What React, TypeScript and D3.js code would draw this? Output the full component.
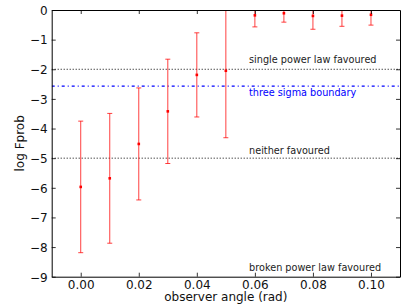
import React, { useEffect, useRef } from 'react';
import * as d3 from 'd3';

// observer angle (rad) and log Fprob with symmetric error
const angles = [0.0, 0.01, 0.02, 0.03, 0.04, 0.05, 0.06, 0.07, 0.08, 0.09, 0.1];
const logFprob = [-5.97, -5.68, -4.52, -3.42, -2.19, -2.05, -0.18, -0.11, -0.2, -0.19, -0.16];
const errors = [2.22, 2.19, 1.89, 1.76, 1.42, 2.26, 0.39, 0.3, 0.45, 0.36, 0.35];

const xTicks = [0.0, 0.02, 0.04, 0.06, 0.08, 0.1];
const yTicks = [0, -1, -2, -3, -4, -5, -6, -7, -8, -9];

// reference lines
const dottedLevels = [-2, -5];
const sigmaLevel = Math.log10(0.0027);

// annotations
const noteX = 0.058;
const noteTexts = ['single power law favoured', 'three sigma boundary', 'neither favoured', 'broken power law favoured'];
const noteY = [-1.8, -2.89, -4.86, -8.81];
const noteColors = ['#222', 'blue', '#222', '#222'];

const App: React.FC = () => {
  const svgRef = useRef<SVGSVGElement>(null);

  useEffect(() => {
    if (!svgRef.current) return;
    const svg = d3.select(svgRef.current);
    svg.selectAll('*').remove();

    const width = 407;
    const height = 307;
    const left = 51.7;
    const right = 400;
    const top = 10;
    const bottom = 276.7;

    const x = d3.scaleLinear().domain([-0.01, 0.11]).range([left, right]);
    const y = d3.scaleLinear().domain([-9, 0]).range([bottom, top]);

    svg.attr('width', width).attr('height', height);
    svg.append('rect').attr('width', width).attr('height', height).attr('fill', 'white');

    svg
      .append('clipPath')
      .attr('id', 'plotclip')
      .append('rect')
      .attr('x', left)
      .attr('y', top)
      .attr('width', right - left)
      .attr('height', bottom - top);

    const plot = svg.append('g').attr('clip-path', 'url(#plotclip)');

    // horizontal reference lines
    dottedLevels.forEach((v) => {
      plot
        .append('line')
        .attr('x1', left)
        .attr('x2', right)
        .attr('y1', y(v))
        .attr('y2', y(v))
        .attr('stroke', 'black')
        .attr('stroke-width', 1)
        .attr('stroke-dasharray', '1,2');
    });
    plot
      .append('line')
      .attr('x1', left)
      .attr('x2', right)
      .attr('y1', y(sigmaLevel))
      .attr('y2', y(sigmaLevel))
      .attr('stroke', 'blue')
      .attr('stroke-width', 1.2)
      .attr('stroke-dasharray', '3,3,1,3');

    // error bars
    const bars = plot
      .selectAll('g.bar')
      .data(angles.map((a, i) => ({ a, v: logFprob[i], e: errors[i] })))
      .join('g')
      .attr('class', 'bar')
      .attr('stroke', 'red')
      .attr('stroke-opacity', 0.75);

    bars
      .append('line')
      .attr('x1', (d) => x(d.a))
      .attr('x2', (d) => x(d.a))
      .attr('y1', (d) => y(d.v - d.e))
      .attr('y2', (d) => y(d.v + d.e));
    [-1, 1].forEach((s) => {
      bars
        .append('line')
        .attr('x1', (d) => x(d.a) - 2.5)
        .attr('x2', (d) => x(d.a) + 2.5)
        .attr('y1', (d) => y(d.v + s * d.e))
        .attr('y2', (d) => y(d.v + s * d.e));
    });
    bars
      .append('rect')
      .attr('x', (d) => x(d.a) - 1.3)
      .attr('y', (d) => y(d.v) - 1.3)
      .attr('width', 2.6)
      .attr('height', 2.6)
      .attr('fill', 'red')
      .attr('stroke', 'none');

    // axes with inward ticks
    const fmtX = d3.format('.2f');
    const gx = svg
      .append('g')
      .attr('transform', `translate(0,${bottom})`)
      .call(d3.axisBottom(x).tickValues(xTicks).tickSizeInner(-4).tickSizeOuter(0).tickPadding(3.5).tickFormat((d) => fmtX(d as number)));
    const gy = svg
      .append('g')
      .attr('transform', `translate(${left},0)`)
      .call(d3.axisLeft(y).tickValues(yTicks).tickSizeInner(-4).tickSizeOuter(0).tickPadding(4).tickFormat(d3.format('d')));
    svg
      .append('g')
      .attr('transform', `translate(0,${top})`)
      .call(d3.axisTop(x).tickValues(xTicks).tickSizeInner(-4).tickSizeOuter(0).tickFormat(() => ''));
    svg
      .append('g')
      .attr('transform', `translate(${right},0)`)
      .call(d3.axisRight(y).tickValues(yTicks).tickSizeInner(-4).tickSizeOuter(0).tickFormat(() => ''));

    svg.selectAll('.domain').attr('stroke', 'black').attr('stroke-width', 1);
    svg.selectAll('.tick line').attr('stroke', 'black').attr('stroke-width', 0.8);
    [gx, gy].forEach((g) =>
      g.selectAll('text').attr('font-family', 'DejaVu Sans').attr('font-size', 12).attr('fill', '#111')
    );
    gy.selectAll('text').attr('dy', '0.36em');

    // annotations
    noteTexts.forEach((t, i) => {
      svg
        .append('text')
        .attr('x', x(noteX))
        .attr('y', y(noteY[i]))
        .attr('font-family', 'DejaVu Sans')
        .attr('font-size', 9.7)
        .attr('fill', noteColors[i])
        .text(t);
    });

    // axis titles
    svg
      .append('text')
      .attr('x', (left + right) / 2)
      .attr('y', 300.5)
      .attr('text-anchor', 'middle')
      .attr('font-family', 'DejaVu Sans')
      .attr('font-size', 12)
      .attr('fill', '#111')
      .text('observer angle (rad)');
    svg
      .append('text')
      .attr('transform', `translate(24,${(top + bottom) / 2}) rotate(-90)`)
      .attr('text-anchor', 'middle')
      .attr('font-family', 'DejaVu Sans')
      .attr('font-size', 12)
      .attr('fill', '#111')
      .text('log Fprob');
  }, []);

  return <svg ref={svgRef} style={{ position: 'absolute', left: 0, top: 0 }} />;
};

export default App;
